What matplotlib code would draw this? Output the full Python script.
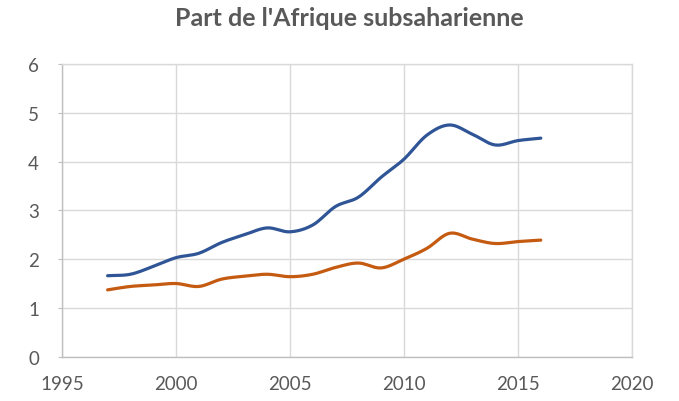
import numpy as np
import matplotlib
matplotlib.use("Agg")
import matplotlib.pyplot as plt

years = [1997, 1998, 1999, 2000, 2001, 2002, 2003, 2004, 2005, 2006,
         2007, 2008, 2009, 2010, 2011, 2012, 2013, 2014, 2015, 2016]
serie_bleue = [1.66, 1.69, 1.85, 2.03, 2.12, 2.34, 2.50, 2.64, 2.56, 2.70,
               3.08, 3.27, 3.68, 4.05, 4.54, 4.75, 4.56, 4.34, 4.43, 4.48]
serie_orange = [1.37, 1.44, 1.47, 1.50, 1.44, 1.59, 1.65, 1.69, 1.64, 1.69,
                1.83, 1.92, 1.82, 2.00, 2.22, 2.53, 2.41, 2.32, 2.36, 2.39]
x_ticks = [1995, 2000, 2005, 2010, 2015, 2020]
y_ticks = [0, 1, 2, 3, 4, 5, 6]
title = "Part de l'Afrique subsaharienne"


def smooth(x, y, n=20):
    """Catmull-Rom smoothing (as Excel's smoothed line)."""
    x = np.asarray(x, float)
    y = np.asarray(y, float)
    px = np.concatenate([[2 * x[0] - x[1]], x, [2 * x[-1] - x[-2]]])
    py = np.concatenate([[2 * y[0] - y[1]], y, [2 * y[-1] - y[-2]]])
    xs, ys = [], []
    t = np.linspace(0, 1, n, endpoint=False)
    for i in range(1, len(px) - 2):
        for P, out in ((px, xs), (py, ys)):
            p0, p1, p2, p3 = P[i - 1], P[i], P[i + 1], P[i + 2]
            out.extend(0.5 * ((2 * p1) + (-p0 + p2) * t
                              + (2 * p0 - 5 * p1 + 4 * p2 - p3) * t ** 2
                              + (-p0 + 3 * p1 - 3 * p2 + p3) * t ** 3))
    xs.append(x[-1])
    ys.append(y[-1])
    return np.array(xs), np.array(ys)


plt.rcParams['font.family'] = ['Lato', 'DejaVu Sans']

fig = plt.figure(figsize=(6.79, 4.02), dpi=100)
ax = fig.add_axes([62 / 679, 44.3 / 402, 570 / 679, 292.7 / 402])

grid_c = '#D9D9D9'
text_c = '#595959'

bx, by = smooth(years, serie_bleue)
ox, oy = smooth(years, serie_orange)
ax.plot(bx, by, color='#2F5597', lw=2.3, solid_capstyle='round', zorder=3)
ax.plot(ox, oy, color='#C55A11', lw=2.3, solid_capstyle='round', zorder=3)

ax.set_xlim(1995, 2020)
ax.set_ylim(0, 6)
ax.set_xticks(x_ticks)
ax.set_yticks(y_ticks)
ax.grid(True, color=grid_c, lw=1.0)
ax.set_axisbelow(True)
for s in ax.spines.values():
    s.set_color(grid_c)
    s.set_linewidth(1.0)
ax.spines['left'].set_color('#BFBFBF')
ax.spines['bottom'].set_color('#BFBFBF')
ax.tick_params(axis='y', length=3, color='#BFBFBF', labelsize=13.5,
               labelcolor=text_c, pad=13.5)
ax.tick_params(axis='x', length=0, labelsize=13.5, labelcolor=text_c, pad=13.5)

fig.text(349.5 / 679, 1 - 18 / 402, title, ha='center', va='center',
         fontsize=18, fontweight='bold', color=text_c)

fig.savefig('out.png', dpi=100)
